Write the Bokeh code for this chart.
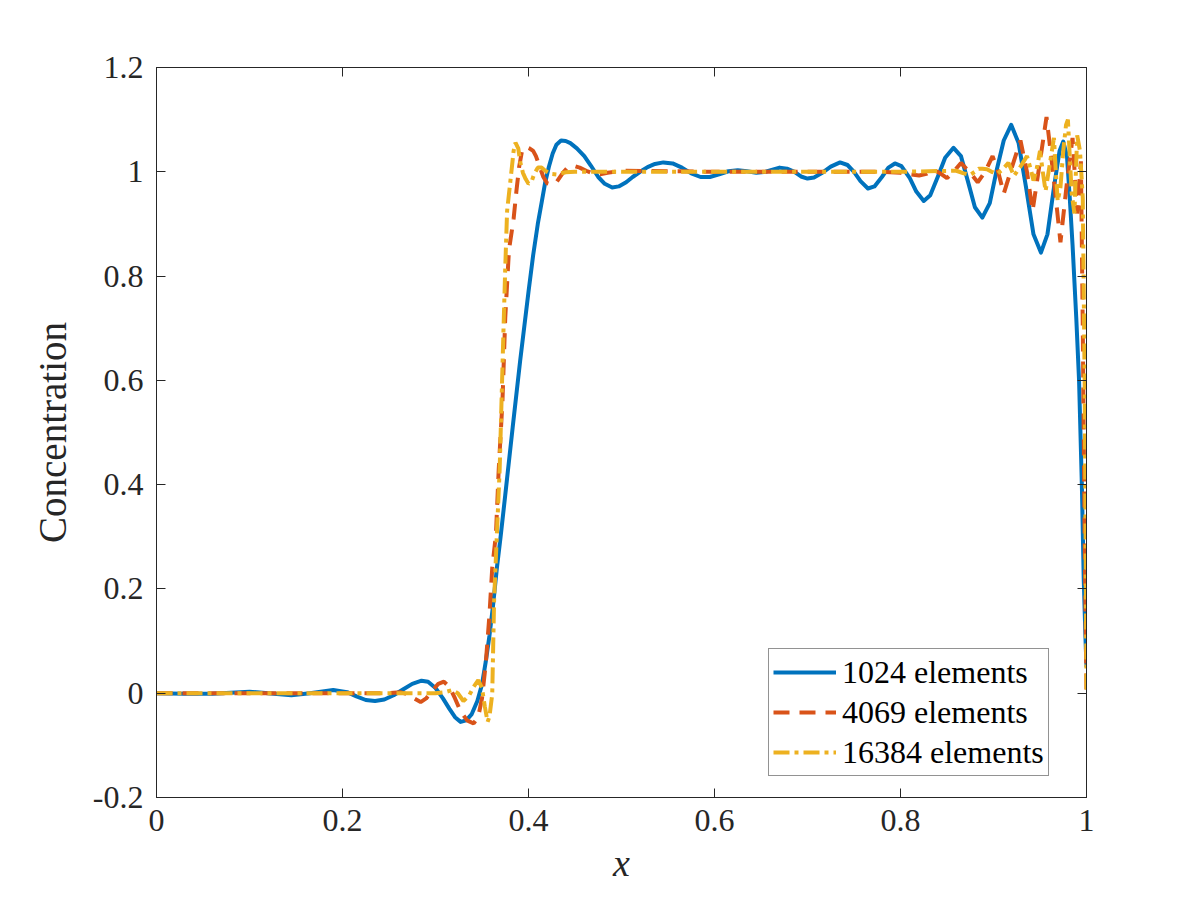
from bokeh.plotting import figure
from bokeh.models import LinearAxis, FixedTicker, Legend, LegendItem
from bokeh.embed import file_html
from bokeh.resources import INLINE

# ---------------- data ----------------
x_1024 = [0.0, 0.03, 0.06, 0.08, 0.1, 0.12, 0.145, 0.165, 0.19, 0.205, 0.215, 0.225, 0.235, 0.245,
          0.255, 0.265, 0.275, 0.285, 0.292, 0.3, 0.308, 0.315, 0.321, 0.327, 0.333, 0.339, 0.345,
          0.35, 0.354, 0.358, 0.362, 0.366, 0.37, 0.375, 0.383, 0.391, 0.4, 0.405, 0.41, 0.414,
          0.418, 0.422, 0.426, 0.43, 0.435, 0.44, 0.445, 0.452, 0.46, 0.467, 0.475, 0.482, 0.49,
          0.497, 0.505, 0.512, 0.52, 0.528, 0.536, 0.545, 0.555, 0.565, 0.575, 0.585, 0.595, 0.605,
          0.615, 0.625, 0.635, 0.645, 0.655, 0.67, 0.678, 0.686, 0.693, 0.7, 0.707, 0.715, 0.725,
          0.735, 0.743, 0.75, 0.757, 0.765, 0.772, 0.78, 0.787, 0.794, 0.801, 0.81, 0.817, 0.825,
          0.832, 0.84, 0.848, 0.857, 0.865, 0.872, 0.88, 0.888, 0.896, 0.903, 0.911, 0.919, 0.927,
          0.935, 0.943, 0.951, 0.958, 0.965, 0.971, 0.975, 0.979, 0.982, 0.985, 0.989, 0.992, 0.995,
          0.997, 0.999, 1.0]
y_1024 = [0.0, -0.001, -0.001, 0.001, 0.003, 0.0, -0.004, 0.0, 0.006, 0.002, -0.006, -0.013, -0.015, -0.012,
          -0.004, 0.007, 0.018, 0.024, 0.022, 0.01, -0.01, -0.03, -0.046, -0.055, -0.052, -0.04, -0.015,
          0.017, 0.06, 0.11, 0.17, 0.24, 0.3, 0.38, 0.51, 0.637, 0.77, 0.84, 0.9, 0.94,
          0.98, 1.01, 1.035, 1.052, 1.06, 1.059, 1.055, 1.045, 1.03, 1.012, 0.99, 0.977, 0.97,
          0.972, 0.98, 0.99, 1.0, 1.009, 1.015, 1.018, 1.016, 1.008, 0.997, 0.99, 0.99, 0.995,
          1.001, 1.003, 1.001, 0.998, 1.0, 1.008, 1.006, 1.0, 0.991, 0.987, 0.989, 0.997, 1.01,
          1.018, 1.013, 1.0, 0.982, 0.968, 0.972, 0.99, 1.008, 1.016, 1.011, 0.988, 0.962, 0.944,
          0.955, 0.99, 1.027, 1.046, 1.03, 0.985, 0.932, 0.912, 0.94, 1.0, 1.06, 1.09, 1.055,
          0.97, 0.88, 0.845, 0.88, 0.97, 1.04, 1.058, 1.03, 0.95, 0.86, 0.72, 0.6, 0.4,
          0.22, 0.1, 0.05]

x_4069 = [0.0, 0.25, 0.262, 0.27, 0.277, 0.284, 0.29, 0.297, 0.303, 0.309, 0.315, 0.321, 0.327,
          0.334, 0.341, 0.346, 0.35, 0.354, 0.358, 0.361, 0.365, 0.368, 0.372, 0.375, 0.379, 0.384,
          0.387, 0.39, 0.393, 0.397, 0.401, 0.405, 0.408, 0.412, 0.416, 0.42, 0.425, 0.43, 0.437,
          0.443, 0.448, 0.455, 0.462, 0.47, 0.477, 0.485, 0.5, 0.6, 0.7, 0.78, 0.8, 0.81, 0.82,
          0.828, 0.835, 0.842, 0.85, 0.857, 0.865, 0.874, 0.883, 0.891, 0.899, 0.905, 0.911, 0.92,
          0.929, 0.936, 0.942, 0.95, 0.957, 0.964, 0.972, 0.979, 0.985, 0.99, 0.994, 0.996, 0.998, 1.0]
y_4069 = [0.0, 0.0, 0.002, -0.002, -0.01, -0.017, -0.01, 0.006, 0.018, 0.022, 0.012, -0.01, -0.035,
          -0.052, -0.058, -0.045, -0.01, 0.056, 0.15, 0.24, 0.305, 0.43, 0.56, 0.72, 0.85, 0.91,
          0.963, 1.01, 1.04, 1.048, 1.045, 1.04, 1.03, 1.01, 0.99, 0.978, 0.975, 0.98, 0.998,
          1.01, 1.012, 1.008, 1.002, 0.996, 0.995, 0.998, 1.002, 1.0, 1.0, 1.0, 0.998, 0.995, 0.993,
          0.996, 1.004, 0.998, 0.988, 1.0, 1.017, 1.0, 0.98, 1.0, 1.03, 1.0, 0.958, 1.01,
          1.06, 1.0, 0.925, 1.02, 1.105, 1.0, 0.865, 0.98, 1.065, 0.92, 1.02, 0.7, 0.3, 0.0]

x_16384 = [0.0, 0.3, 0.31, 0.318, 0.324, 0.33, 0.336, 0.341, 0.346, 0.35, 0.353, 0.356, 0.358,
           0.361, 0.363, 0.366, 0.369, 0.371, 0.373, 0.375, 0.377, 0.381, 0.384, 0.386, 0.389, 0.391,
           0.394, 0.397, 0.4, 0.403, 0.406, 0.41, 0.414, 0.418, 0.424, 0.43, 0.44, 0.45, 0.6, 0.8,
           0.86, 0.868, 0.875, 0.88, 0.884, 0.888, 0.893, 0.898, 0.904, 0.91, 0.916, 0.919, 0.922,
           0.929, 0.936, 0.94, 0.943, 0.947, 0.95, 0.953, 0.956, 0.961, 0.965, 0.967, 0.969, 0.972,
           0.975, 0.978, 0.98, 0.982, 0.984, 0.987, 0.99, 0.993, 0.996, 0.998, 0.999, 1.0]
y_16384 = [0.0, 0.0, 0.002, 0.006, 0.0, -0.015, -0.005, 0.012, 0.025, 0.01, -0.025, -0.055, -0.045,
           -0.002, 0.177, 0.305, 0.43, 0.56, 0.69, 0.816, 0.925, 0.99, 1.04, 1.056, 1.045, 1.02,
           0.998, 0.986, 0.977, 0.98, 0.995, 1.008, 1.008, 1.002, 0.996, 0.995, 0.999, 1.0, 1.0, 1.0,
           1.002, 0.997, 0.994, 1.0, 1.006, 1.006, 1.005, 1.0, 0.996, 1.005, 1.017, 1.005, 0.992,
           1.01, 1.03, 1.005, 0.983, 1.01, 1.04, 1.0, 0.963, 1.02, 1.065, 1.0, 0.944, 0.97,
           1.04, 1.09, 1.1, 1.03, 0.96, 0.92, 1.07, 1.04, 0.95, 0.6, 0.3, 0.0]

series_labels = ["1024 elements", "4069 elements", "16384 elements"]
x_ticks = [0, 0.2, 0.4, 0.6, 0.8, 1]
x_tick_labels = ["0", "0.2", "0.4", "0.6", "0.8", "1"]
y_ticks = [-0.2, 0, 0.2, 0.4, 0.6, 0.8, 1, 1.2]
y_tick_labels = ["-0.2", "0", "0.2", "0.4", "0.6", "0.8", "1", "1.2"]

# ---------------- style ----------------
FONT = "Liberation Serif"
AX = "#262626"
C_BLUE, C_RED, C_YEL = "#0072BD", "#D95319", "#EDB120"

p = figure(width=1200, height=900, x_range=(0, 1), y_range=(-0.2, 1.2),
           output_backend="svg", toolbar_location=None,
           min_border_left=156, min_border_right=114, min_border_top=67, min_border_bottom=103,
           background_fill_color="white", border_fill_color="white")
p.xgrid.visible = False
p.ygrid.visible = False
p.outline_line_color = AX
p.outline_line_width = 1

xo = {t: s for t, s in zip(x_ticks, x_tick_labels)}
yo = {t: s for t, s in zip(y_ticks, y_tick_labels)}


def style_axis(ax, ticks, overrides, show_labels):
    ax.ticker = FixedTicker(ticks=ticks)
    ax.minor_tick_line_color = None
    ax.major_tick_in = 9
    ax.major_tick_out = 0
    ax.major_tick_line_color = AX
    ax.axis_line_color = AX
    ax.major_label_overrides = overrides
    ax.major_label_text_font = FONT
    ax.major_label_text_font_size = "32px"
    if show_labels:
        ax.major_label_text_color = AX
    else:
        ax.major_label_text_color = None
        ax.major_label_text_alpha = 0
        ax.major_label_text_font_size = "10px"
        ax.major_label_standoff = 0


style_axis(p.xaxis[0], x_ticks, xo, True)
style_axis(p.yaxis[0], y_ticks, yo, True)
p.xaxis[0].major_label_standoff = 12
p.yaxis[0].major_label_standoff = 13
p.xaxis[0].axis_label = "x"
p.xaxis[0].axis_label_text_font = FONT
p.xaxis[0].axis_label_text_font_style = "italic"
p.xaxis[0].axis_label_text_font_size = "38px"
p.xaxis[0].axis_label_text_color = AX
p.xaxis[0].axis_label_standoff = 8
p.yaxis[0].axis_label = "Concentration"
p.yaxis[0].axis_label_text_font = FONT
p.yaxis[0].axis_label_text_font_style = "normal"
p.yaxis[0].axis_label_text_font_size = "39px"
p.yaxis[0].axis_label_text_color = AX
p.yaxis[0].axis_label_standoff = 16

top = LinearAxis()
right = LinearAxis()
style_axis(top, x_ticks, xo, False)
style_axis(right, y_ticks, yo, False)
p.add_layout(top, "above")
p.add_layout(right, "right")

r1 = p.line(x_1024, y_1024, line_color=C_BLUE, line_width=4, line_join="round")
r2 = p.line(x_4069, y_4069, line_color=C_RED, line_width=4, line_dash="16 10")
r3 = p.line(x_16384, y_16384, line_color=C_YEL, line_width=4, line_dash="16 5 4 5")

legend = Legend(items=[LegendItem(label=series_labels[0], renderers=[r1]),
                       LegendItem(label=series_labels[1], renderers=[r2]),
                       LegendItem(label=series_labels[2], renderers=[r3])],
                location=(612, 21))
legend.label_text_font = FONT
legend.label_text_font_size = "32px"
legend.label_text_color = "black"
legend.glyph_width = 63
legend.glyph_height = 38
legend.label_height = 38
legend.label_standoff = 6
legend.spacing = 2
legend.padding = 4
legend.margin = 0
legend.border_line_color = AX
legend.border_line_width = 1
legend.background_fill_color = "white"
legend.background_fill_alpha = 1
p.add_layout(legend, "center")

open("out.html", "w").write(file_html(p, INLINE))
